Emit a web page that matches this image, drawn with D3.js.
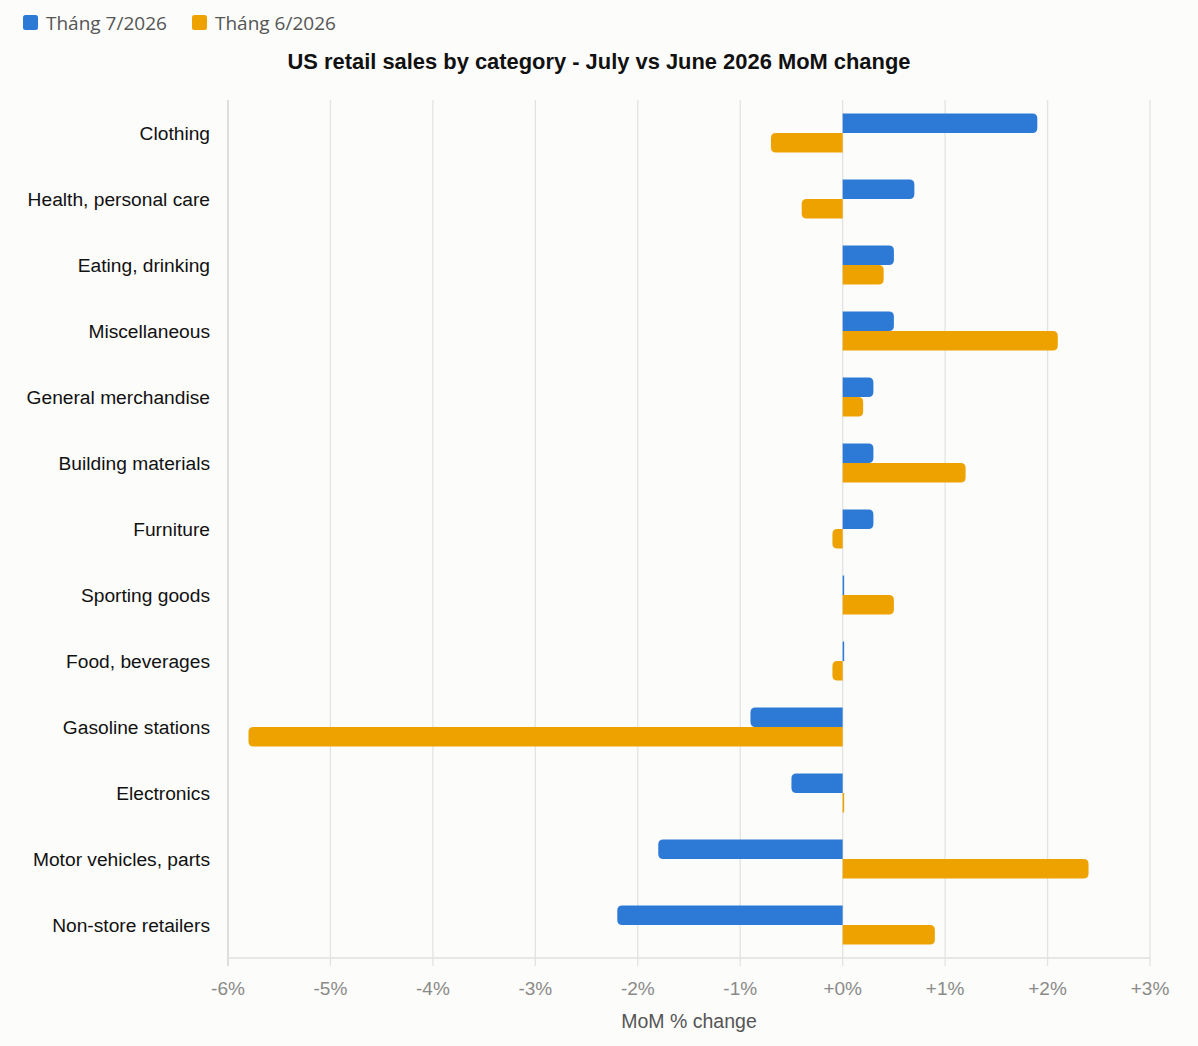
<!DOCTYPE html>
<html><head><meta charset="utf-8">
<script src="https://cdn.jsdelivr.net/npm/d3@7"></script>
<style>
html,body{margin:0;padding:0;background:#fcfcfb;}
svg{display:block;}
</style></head>
<body>
<svg id="chart" width="1198" height="1046"></svg>
<script>
const categories = ["Clothing","Health, personal care","Eating, drinking","Miscellaneous","General merchandise","Building materials","Furniture","Sporting goods","Food, beverages","Gasoline stations","Electronics","Motor vehicles, parts","Non-store retailers"];
const julyValues = [1.9,0.7,0.5,0.5,0.3,0.3,0.3,0,0,-0.9,-0.5,-1.8,-2.2];
const juneValues = [-0.7,-0.4,0.4,2.1,0.2,1.2,-0.1,0.5,-0.1,-5.8,0,2.4,0.9];
const seriesNames = ["Tháng 7/2026","Tháng 6/2026"];
const seriesColors = ["#2d79d6","#eea200"];
const tickValues = [-6,-5,-4,-3,-2,-1,0,1,2,3];
const title = "US retail sales by category - July vs June 2026 MoM change";
const xTitle = "MoM % change";

const svg = d3.select("#chart");
const W = 1198, H = 1046;
const m = {left:228, right:48, top:100, bottom:88};
const x = d3.scaleLinear().domain([-6,3]).range([m.left, W - m.right]);
const y = d3.scaleBand().domain(categories).range([m.top, H - m.bottom]).paddingInner(0.41).paddingOuter(0.205);
const sub = d3.scaleBand().domain([0,1]).range([0, y.bandwidth()]);

svg.append("rect").attr("width",W).attr("height",H).attr("fill","#fcfcfb");

// grid
svg.append("g").selectAll("line").data(tickValues.slice(1)).join("line")
  .attr("x1",d=>x(d)).attr("x2",d=>x(d)).attr("y1",m.top).attr("y2",H-m.bottom+8)
  .attr("stroke","#e3e3e1").attr("stroke-width",1.3);
// left axis line
svg.append("line").attr("x1",x(-6)).attr("x2",x(-6)).attr("y1",m.top).attr("y2",H-m.bottom+8)
  .attr("stroke","#d4d4d2").attr("stroke-width",1.5);
// bottom axis
svg.append("line").attr("x1",x(-6)).attr("x2",x(3)).attr("y1",H-m.bottom).attr("y2",H-m.bottom)
  .attr("stroke","#e0e0de").attr("stroke-width",1.5);

// tick labels
svg.append("g").selectAll("text").data(tickValues).join("text")
  .attr("x",d=>x(d)).attr("y",H-m.bottom+37).attr("text-anchor","middle")
  .attr("font-family","Liberation Sans, Arial, sans-serif").attr("font-size",19).attr("fill","#8a8a88")
  .text(d=> (d>=0?"+":"") + d + "%");

// axis title
svg.append("text").attr("x",(x(-6)+x(3))/2).attr("y",1028).attr("text-anchor","middle")
  .attr("font-family","Liberation Sans, Arial, sans-serif").attr("font-size",19.5).attr("fill","#555")
  .text(xTitle);

// category labels
svg.append("g").selectAll("text").data(categories).join("text")
  .attr("x",210).attr("y",d=>y(d)+y.bandwidth()/2).attr("dy","0.35em").attr("text-anchor","end")
  .attr("font-family","Liberation Sans, Arial, sans-serif").attr("font-size",19.2).attr("fill","#111")
  .text(d=>d);

function barPath(v, y0, h){
  const x0 = x(0);
  let x1 = x(v);
  const r = 5;
  if (Math.abs(x1-x0) < 1.5) {
    return `M${x0},${y0}h1.5v${h}h-1.5Z`;
  }
  const rr = Math.min(r, Math.abs(x1-x0));
  if (v > 0) {
    return `M${x0},${y0}H${x1-rr}Q${x1},${y0} ${x1},${y0+rr}V${y0+h-rr}Q${x1},${y0+h} ${x1-rr},${y0+h}H${x0}Z`;
  } else {
    return `M${x0},${y0}H${x1+rr}Q${x1},${y0} ${x1},${y0+rr}V${y0+h-rr}Q${x1},${y0+h} ${x1+rr},${y0+h}H${x0}Z`;
  }
}

[julyValues, juneValues].forEach((vals, si) => {
  svg.append("g").selectAll("path").data(vals).join("path")
    .attr("d",(v,i)=>barPath(v, y(categories[i]) + sub(si), sub.bandwidth()))
    .attr("fill", seriesColors[si]);
});

// title
svg.append("text").attr("x",599).attr("y",69).attr("text-anchor","middle")
  .attr("font-family","Liberation Sans, Arial, sans-serif").attr("font-size",21.9).attr("font-weight","bold").attr("fill","#111")
  .text(title);

// legend
const leg = svg.append("g");
const legX = [23, 192];
seriesNames.forEach((n,i)=>{
  leg.append("rect").attr("x",legX[i]).attr("y",15).attr("width",15).attr("height",15).attr("rx",2.5)
    .attr("fill",seriesColors[i]);
  leg.append("text").attr("x",legX[i]+23).attr("y",23).attr("dy","0.35em")
    .attr("font-family","Open Sans, Noto Sans, sans-serif").attr("font-size",19).attr("fill","#555")
    .text(n);
});
</script>
</body></html>
